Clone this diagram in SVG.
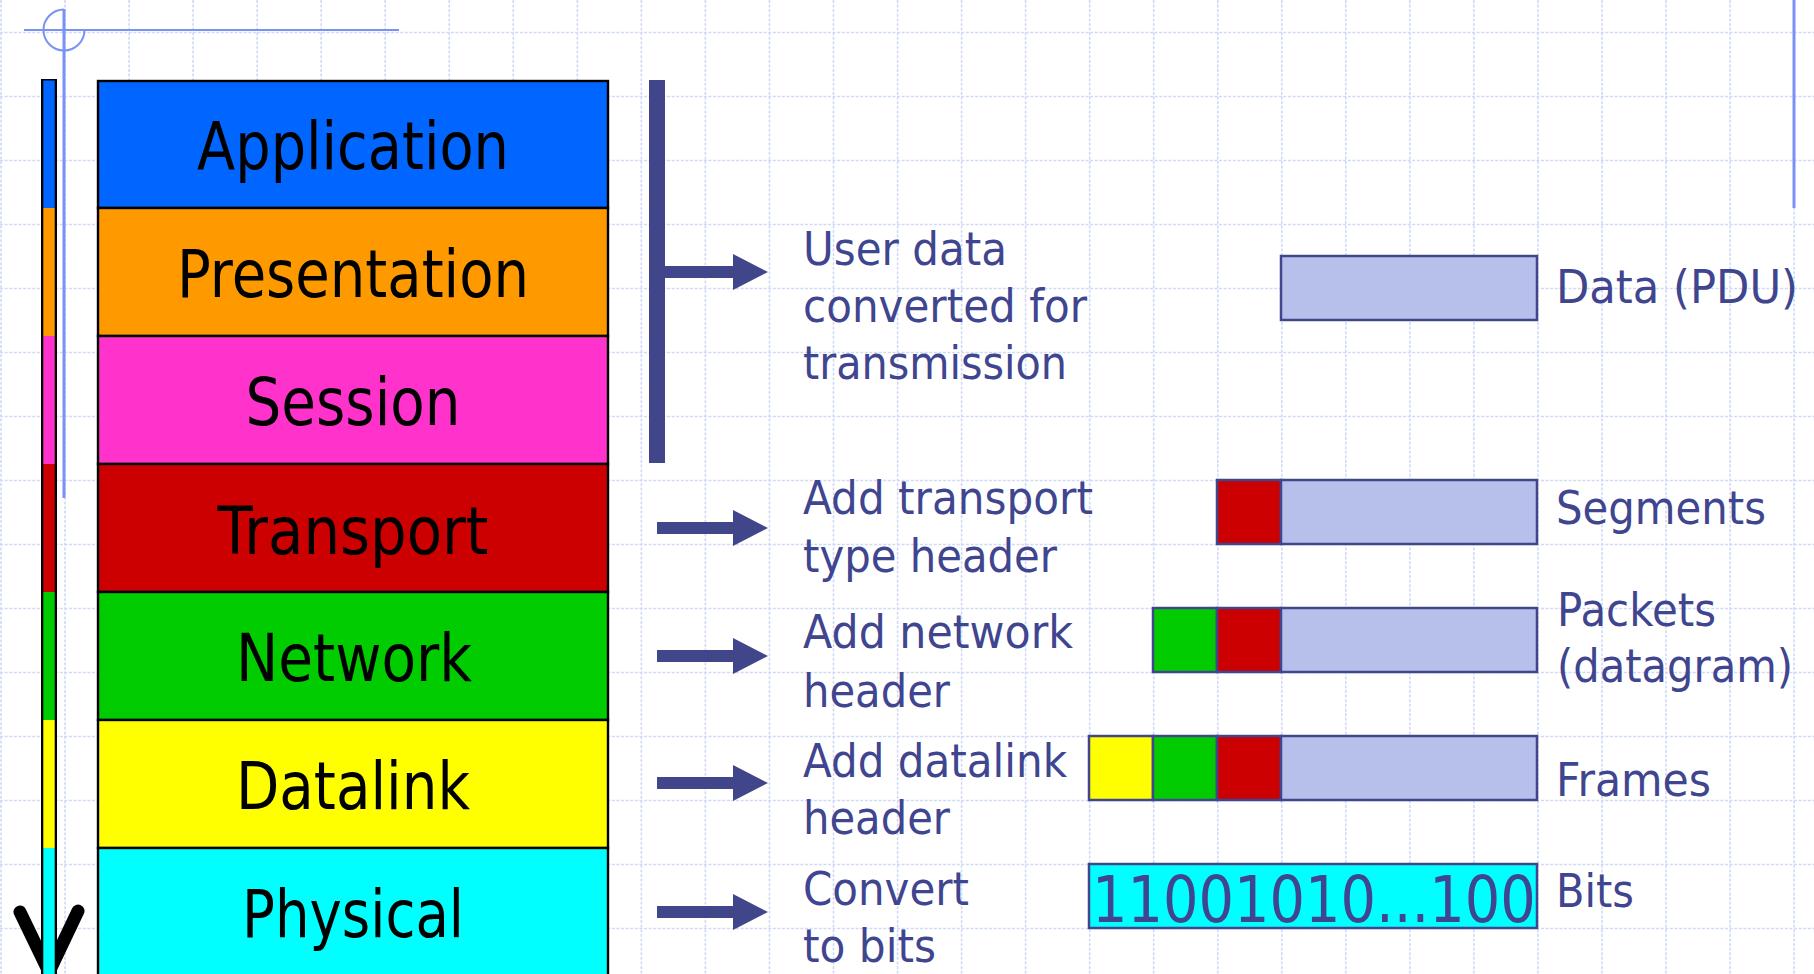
<svg xmlns="http://www.w3.org/2000/svg" width="1814" height="974" viewBox="0 0 1814 974">
  <style>
    .grid { fill: none; stroke: #d0daf7; stroke-width: 1.6; stroke-dasharray: 3 1.6; }
    .guide { fill: none; stroke: #7a91f5; }
    .layer rect { stroke: #000; stroke-width: 2.4; }
    .layer text { font-family: "DejaVu Sans", Verdana, sans-serif; font-size: 66px; fill: #000; text-anchor: middle; }
    .note { font-family: "DejaVu Sans", Verdana, sans-serif; font-size: 46px; fill: #40458f; }
    .bits { font-size: 64px; }
    .arrow { fill: #414589; }
    .pdu rect { stroke: #41468c; stroke-width: 2.5; }
    .payload { fill: #b7c0eb; }
  </style>

  <rect width="1814" height="974" fill="#fff"/>

  <!-- dotted background grid -->
  <path class="grid" d="M1 0V974 M65 0V974 M129.1 0V974 M193.1 0V974 M257.2 0V974 M321.2 0V974 M385.2 0V974 M449.3 0V974 M513.3 0V974 M577.4 0V974 M641.4 0V974 M705.4 0V974 M769.5 0V974 M833.5 0V974 M897.6 0V974 M961.6 0V974 M1025.6 0V974 M1089.7 0V974 M1153.7 0V974 M1217.8 0V974 M1281.8 0V974 M1345.8 0V974 M1409.9 0V974 M1473.9 0V974 M1538 0V974 M1602 0V974 M1666 0V974 M1730.1 0V974 M1794.1 0V974"/>
  <path class="grid" d="M0 32.5H1814 M0 96.5H1814 M0 160.5H1814 M0 224.5H1814 M0 288.5H1814 M0 352.5H1814 M0 416.5H1814 M0 480.5H1814 M0 544.5H1814 M0 608.5H1814 M0 672.5H1814 M0 736.5H1814 M0 800.5H1814 M0 864.5H1814 M0 928.5H1814"/>

  <!-- page guides -->
  <g id="guides">
    <line class="guide" x1="24" y1="30" x2="399" y2="30" stroke-width="2"/>
    <path class="guide" d="M64 9.5A20.5 20.5 0 1 0 84.5 30" stroke-width="2"/>
    <line class="guide" x1="64" y1="9" x2="64" y2="498" stroke-width="3"/>
    <line class="guide" x1="1794" y1="0" x2="1794" y2="208" stroke-width="3"/>
  </g>

  <!-- downward direction indicator -->
  <g id="direction">
    <polyline points="20,912 49,972 78,911" fill="none" stroke="#000" stroke-width="13" stroke-linecap="round" stroke-linejoin="miter"/>
    <rect x="41" y="79" width="16" height="900" fill="#000"/>
    <rect x="43.3" y="80.5" width="11.4" height="127.5" fill="#0066ff"/>
    <rect x="43.3" y="208" width="11.4" height="128" fill="#ff9900"/>
    <rect x="43.3" y="336" width="11.4" height="128" fill="#ff33cc"/>
    <rect x="43.3" y="464" width="11.4" height="128" fill="#cc0000"/>
    <rect x="43.3" y="592" width="11.4" height="128" fill="#00cc00"/>
    <rect x="43.3" y="720" width="11.4" height="128" fill="#ffff00"/>
    <rect x="43.3" y="848" width="11.4" height="130" fill="#00ffff"/>
  </g>

  <!-- OSI layers -->
  <g id="layer-application" class="layer">
    <rect x="98" y="81" width="510" height="127" fill="#0066ff"/>
    <text x="353" y="169" textLength="312" lengthAdjust="spacingAndGlyphs">Application</text>
  </g>
  <g id="layer-presentation" class="layer">
    <rect x="98" y="208" width="510" height="128" fill="#ff9900"/>
    <text x="353" y="297" textLength="352" lengthAdjust="spacingAndGlyphs">Presentation</text>
  </g>
  <g id="layer-session" class="layer">
    <rect x="98" y="336" width="510" height="128" fill="#ff33cc"/>
    <text x="353" y="425" textLength="215" lengthAdjust="spacingAndGlyphs">Session</text>
  </g>
  <g id="layer-transport" class="layer">
    <rect x="98" y="464" width="510" height="128" fill="#cc0000"/>
    <text x="353" y="554" textLength="271" lengthAdjust="spacingAndGlyphs">Transport</text>
  </g>
  <g id="layer-network" class="layer">
    <rect x="98" y="592" width="510" height="128" fill="#00cc00"/>
    <text x="354" y="681" textLength="236" lengthAdjust="spacingAndGlyphs">Network</text>
  </g>
  <g id="layer-datalink" class="layer">
    <rect x="98" y="720" width="510" height="128" fill="#ffff00"/>
    <text x="353" y="809" textLength="234" lengthAdjust="spacingAndGlyphs">Datalink</text>
  </g>
  <g id="layer-physical" class="layer">
    <rect x="98" y="848" width="510" height="140" fill="#00ffff"/>
    <text x="353" y="937" textLength="222" lengthAdjust="spacingAndGlyphs">Physical</text>
  </g>

  <!-- connectors: bracket and arrows -->
  <g id="connectors" class="arrow">
    <rect x="649" y="80" width="16" height="383"/>
    <rect x="665" y="266" width="69" height="12"/>
    <polygon points="733,254 768,272 733,290"/>
    <rect x="657" y="522" width="77" height="12"/>
    <polygon points="733,510 768,528 733,546"/>
    <rect x="657" y="650" width="77" height="12"/>
    <polygon points="733,638 768,656 733,674"/>
    <rect x="657" y="777" width="77" height="12"/>
    <polygon points="733,765 768,783 733,801"/>
    <rect x="657" y="906" width="77" height="12"/>
    <polygon points="733,894 768,912 733,930"/>
  </g>

  <!-- step descriptions -->
  <g id="step-user-data">
    <text class="note" x="803" y="265" textLength="204" lengthAdjust="spacingAndGlyphs">User data</text>
    <text class="note" x="803" y="322" textLength="284" lengthAdjust="spacingAndGlyphs">converted for</text>
    <text class="note" x="803" y="379" textLength="264" lengthAdjust="spacingAndGlyphs">transmission</text>
  </g>
  <g id="step-transport">
    <text class="note" x="803" y="514" textLength="290" lengthAdjust="spacingAndGlyphs">Add transport</text>
    <text class="note" x="803" y="572" textLength="254" lengthAdjust="spacingAndGlyphs">type header</text>
  </g>
  <g id="step-network">
    <text class="note" x="803" y="648" textLength="270" lengthAdjust="spacingAndGlyphs">Add network</text>
    <text class="note" x="803" y="707" textLength="147" lengthAdjust="spacingAndGlyphs">header</text>
  </g>
  <g id="step-datalink">
    <text class="note" x="803" y="777" textLength="264" lengthAdjust="spacingAndGlyphs">Add datalink</text>
    <text class="note" x="803" y="834" textLength="147" lengthAdjust="spacingAndGlyphs">header</text>
  </g>
  <g id="step-physical">
    <text class="note" x="803" y="905" textLength="166" lengthAdjust="spacingAndGlyphs">Convert</text>
    <text class="note" x="803" y="962" textLength="133" lengthAdjust="spacingAndGlyphs">to bits</text>
  </g>

  <!-- protocol data units -->
  <g id="pdu-data" class="pdu">
    <rect class="payload" x="1281" y="256" width="256" height="64"/>
    <text class="note" x="1556" y="303" textLength="242" lengthAdjust="spacingAndGlyphs">Data (PDU)</text>
  </g>
  <g id="pdu-segment" class="pdu">
    <rect x="1217" y="480" width="64" height="64" fill="#cc0000"/>
    <rect class="payload" x="1281" y="480" width="256" height="64"/>
    <text class="note" x="1556" y="524" textLength="210" lengthAdjust="spacingAndGlyphs">Segments</text>
  </g>
  <g id="pdu-packet" class="pdu">
    <rect x="1153" y="608" width="64" height="64" fill="#00cc00"/>
    <rect x="1217" y="608" width="64" height="64" fill="#cc0000"/>
    <rect class="payload" x="1281" y="608" width="256" height="64"/>
    <text class="note" x="1557" y="626" textLength="159" lengthAdjust="spacingAndGlyphs">Packets</text>
    <text class="note" x="1557" y="682" textLength="236" lengthAdjust="spacingAndGlyphs">(datagram)</text>
  </g>
  <g id="pdu-frame" class="pdu">
    <rect x="1089" y="736" width="64" height="64" fill="#ffff00"/>
    <rect x="1153" y="736" width="64" height="64" fill="#00cc00"/>
    <rect x="1217" y="736" width="64" height="64" fill="#cc0000"/>
    <rect class="payload" x="1281" y="736" width="256" height="64"/>
    <text class="note" x="1556" y="796" textLength="155" lengthAdjust="spacingAndGlyphs">Frames</text>
  </g>
  <g id="pdu-bits" class="pdu">
    <rect x="1089" y="864" width="448" height="64" fill="#00ffff"/>
    <!-- narrowed horizontally so the digit run fits inside the frame -->
    <text class="note bits" transform="translate(1092 922) scale(0.872 1)">11001010...100</text>
    <text class="note" x="1556" y="907" textLength="78" lengthAdjust="spacingAndGlyphs">Bits</text>
  </g>
</svg>
